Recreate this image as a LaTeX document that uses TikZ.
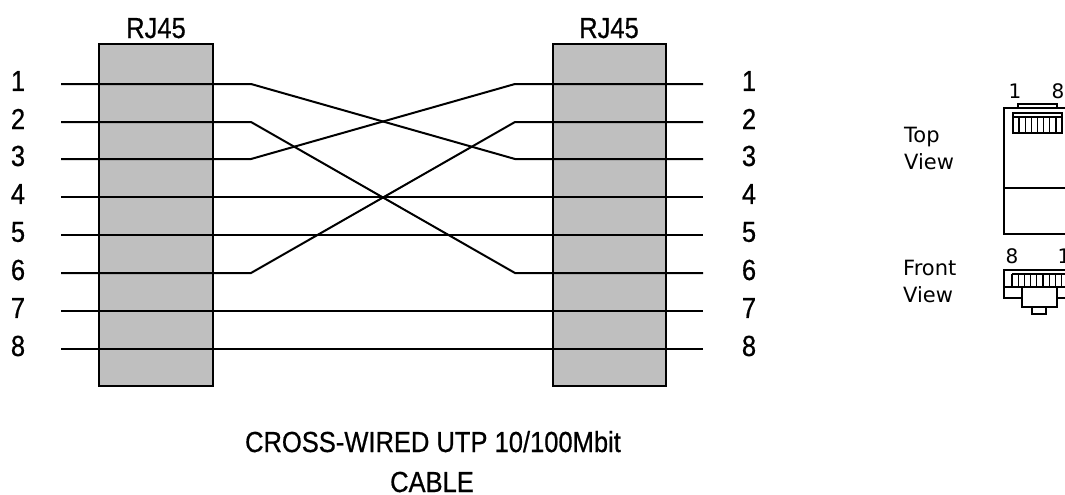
\documentclass[tikz,border=0pt]{standalone}
\usepackage{fontspec}
\setmainfont{Liberation Sans}[FakeStretch=0.88,FakeBold=0.6]
\newfontfamily\viewfont{DejaVu Sans}
\begin{document}
\begin{tikzpicture}[x=1pt,y=-1pt,
  wire/.style={line width=2pt,black},
  jack/.style={draw=black,line width=1.5pt,fill=black!25},
  pinlab/.style={font=\fontsize{29}{34}\selectfont,inner sep=0pt,anchor=center},
  biglab/.style={font=\fontsize{29}{34}\selectfont,inner sep=0pt,anchor=base},
  viewlab/.style={font=\viewfont\fontsize{21}{27}\selectfont,inner sep=0pt,align=left},
  smalllab/.style={font=\viewfont\fontsize{20}{22}\selectfont,inner sep=0pt,anchor=base},
  plug/.style={line width=1.3pt,black}]
\useasboundingbox (0,0) rectangle (1065,495);
\clip (0,0) rectangle (1065,495);
% jacks
\path[jack] (99,44) rectangle (213,386);
\path[jack] (553,44) rectangle (666,386);
\node[biglab] (rjl) at (156,38) {RJ45};
\node[biglab] (rjr) at (609,38) {RJ45};
% wire coordinates
\foreach \i/\yy in {1/84,2/122,3/159,4/197,5/235,6/273,7/311,8/349}{
  \coordinate (L\i) at (61,\yy);
  \coordinate (A\i) at (251,\yy);
  \coordinate (B\i) at (515,\yy);
  \coordinate (R\i) at (703,\yy);
  \node[pinlab] (nl\i) at (18,\yy-3) {\i};
  \node[pinlab] (nr\i) at (749,\yy-3) {\i};
}
\draw[wire] (L1) -- (A1) -- (B3) -- (R3);
\draw[wire] (L2) -- (A2) -- (B6) -- (R6);
\draw[wire] (L3) -- (A3) -- (B1) -- (R1);
\draw[wire] (L4) -- (R4);
\draw[wire] (L5) -- (R5);
\draw[wire] (L6) -- (A6) -- (B2) -- (R2);
\draw[wire] (L7) -- (R7);
\draw[wire] (L8) -- (R8);
% caption
\node[biglab,text depth=0pt] (cap1) at (433,452) {CROSS-WIRED UTP 10/100Mbit};
\node[biglab,text depth=0pt] (cap2) at (432,492) {CABLE};
% plug views
\node[viewlab,anchor=north west] (top) at (904,127) {Top\\View};
\node[viewlab,anchor=north west] (front) at (903,260) {Front\\View};
\node[smalllab] (t1) at (1015,98) {1};
\node[smalllab] (t8) at (1058,98) {8};
\node[smalllab] (f8) at (1012,263) {8};
\node[smalllab] (f1) at (1064,263) {1};
% top view
\draw[plug] (1004,108) rectangle (1072,234);
\draw[plug] (1004,188) -- (1072,188);
\draw[plug] (1018,104) rectangle (1057,108);
\draw[plug] (1013,113) rectangle (1062,133);
\draw[plug] (1013,117) -- (1062,117);
\foreach \k in {1,...,7}{\draw[plug] (1013+\k*6.125,117) -- (1013+\k*6.125,133);}
% front view
\draw[plug] (1004,270) rectangle (1075,287);
\draw[plug] (1012,274) -- (1075,274);
\foreach \k in {0,...,8}{\draw[plug] (1012+\k*6.2,274) -- (1012+\k*6.2,287);}
\draw[plug] (1004,287) -- (1004,298) -- (1022,298);
\draw[plug] (1022,287) rectangle (1057,307);
\draw[plug] (1057,298) -- (1072,298);
\draw[plug] (1032,307) rectangle (1046,314);
\end{tikzpicture}
\end{document}
